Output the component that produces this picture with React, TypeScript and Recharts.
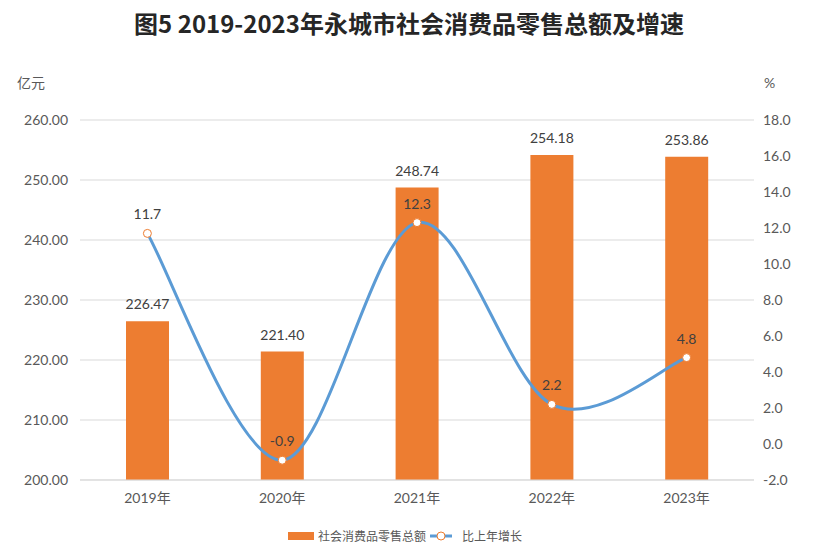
import React from "react";
import {
  Bar,
  CartesianGrid,
  ComposedChart,
  LabelList,
  Line,
  XAxis,
  YAxis,
} from "recharts";

const years = ["2019年", "2020年", "2021年", "2022年", "2023年"];
const retailTotal = [226.47, 221.4, 248.74, 254.18, 253.86];
const growthRate = [11.7, -0.9, 12.3, 2.2, 4.8];
const leftTicks = [200, 210, 220, 230, 240, 250, 260];
const rightTicks = [-2, 0, 2, 4, 6, 8, 10, 12, 14, 16, 18];

const ORANGE = "#ED7D31";
const BLUE = "#5B9BD5";
const GRID = "#D9D9D9";
const TICK = "#595959";
const LABEL = "#404040";
const FONT = "Lato, 'Noto Sans CJK SC', sans-serif";

const data = years.map((year, i) => ({
  year,
  total: retailTotal[i],
  growth: growthRate[i],
}));

// Excel-style smoothed line (Catmull-Rom through every point)
const excelSmooth = (context: any) => {
  let pts: [number, number][] = [];
  return {
    areaStart() {},
    areaEnd() {},
    lineStart() {
      pts = [];
    },
    lineEnd() {
      const n = pts.length;
      if (!n) return;
      context.moveTo(pts[0][0], pts[0][1]);
      for (let i = 0; i < n - 1; i++) {
        const p0 = pts[Math.max(0, i - 1)];
        const p1 = pts[i];
        const p2 = pts[i + 1];
        const p3 = pts[Math.min(n - 1, i + 2)];
        context.bezierCurveTo(
          p1[0] + (p2[0] - p0[0]) / 6,
          p1[1] + (p2[1] - p0[1]) / 6,
          p2[0] - (p3[0] - p1[0]) / 6,
          p2[1] - (p3[1] - p1[1]) / 6,
          p2[0],
          p2[1]
        );
      }
    },
    point(x: number, y: number) {
      pts.push([+x, +y]);
    },
  };
};

const tickStyle = { fill: TICK, fontSize: 14, fontFamily: FONT };

const App = () => (
  <div style={{ position: "relative", width: 818, height: 550, fontFamily: FONT }}>
    <style>{"body{margin:0}"}</style>
    <div
      style={{
        position: "absolute",
        top: 5,
        left: 0,
        width: 818,
        textAlign: "center",
        fontSize: 24,
        fontWeight: 700,
        color: "#262626",
        fontFamily: "'Noto Sans CJK SC', sans-serif",
      }}
    >
      图5 2019-2023年永城市社会消费品零售总额及增速
    </div>
    <div style={{ position: "absolute", left: 17, top: 72, fontSize: 14, color: TICK }}>亿元</div>
    <div style={{ position: "absolute", left: 764, top: 74, fontSize: 14, color: TICK }}>%</div>

    <ComposedChart
      width={818}
      height={550}
      data={data}
      margin={{ top: 120, right: 0, bottom: 40, left: 0 }}
    >
      <CartesianGrid yAxisId="left" vertical={false} stroke={GRID} />
      <XAxis
        dataKey="year"
        height={30}
        tickLine={false}
        tickSize={0}
        tickMargin={13}
        axisLine={{ stroke: GRID }}
        tick={tickStyle}
      />
      <YAxis
        yAxisId="left"
        width={80}
        domain={[200, 260]}
        ticks={leftTicks}
        tickFormatter={(v: number) => v.toFixed(2)}
        axisLine={false}
        tickLine={false}
        tickSize={0}
        tickMargin={12}
        tick={tickStyle}
      />
      <YAxis
        yAxisId="right"
        orientation="right"
        width={64}
        domain={[-2, 18]}
        ticks={rightTicks}
        tickFormatter={(v: number) => v.toFixed(1)}
        axisLine={false}
        tickLine={false}
        tickSize={0}
        tickMargin={9}
        tick={{ ...tickStyle, textAnchor: "start" }}
      />
      <Bar
        yAxisId="left"
        dataKey="total"
        fill={ORANGE}
        barSize={43}
        isAnimationActive={false}
      >
        <LabelList
          dataKey="total"
          position="top"
          offset={12}
          formatter={(v: number) => v.toFixed(2)}
          style={{ fill: LABEL, fontSize: 14, fontFamily: FONT }}
        />
      </Bar>
      <Line
        yAxisId="right"
        dataKey="growth"
        type={excelSmooth as any}
        stroke={BLUE}
        strokeWidth={3}
        dot={{ r: 4, fill: "#FFFFFF", stroke: ORANGE, strokeWidth: 1 }}
        activeDot={false}
        isAnimationActive={false}
      >
        <LabelList
          dataKey="growth"
          position="top"
          offset={14}
          formatter={(v: number) => v.toFixed(1)}
          style={{ fill: LABEL, fontSize: 14, fontFamily: FONT }}
        />
      </Line>
    </ComposedChart>

    <div
      style={{
        position: "absolute",
        top: 527,
        left: 288,
        display: "flex",
        alignItems: "center",
        fontSize: 12,
        color: TICK,
        fontFamily: "'Noto Sans CJK SC', sans-serif",
        lineHeight: "18px",
      }}
    >
      <span style={{ width: 26, height: 8, background: ORANGE, marginRight: 4 }} />
      <span>社会消费品零售总额</span>
      <svg width={22} height={10} style={{ marginLeft: 4, marginRight: 10 }}>
        <line x1={0} y1={5} x2={22} y2={5} stroke={BLUE} strokeWidth={3} />
        <circle cx={11} cy={5} r={4} fill="#FFFFFF" stroke={ORANGE} strokeWidth={1} />
      </svg>
      <span>比上年增长</span>
    </div>
  </div>
);

export default App;
